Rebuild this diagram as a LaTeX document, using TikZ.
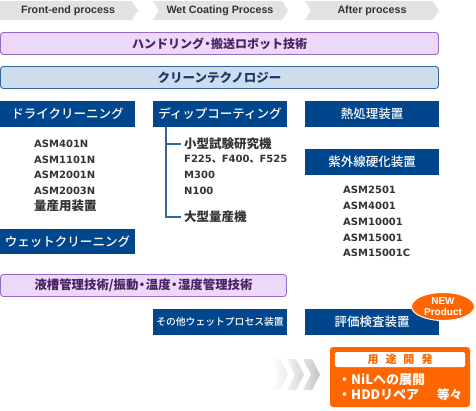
\documentclass[tikz,border=0pt]{standalone}
\usepackage{fontspec}
\usetikzlibrary{shapes.geometric}
\setmainfont{Noto Sans CJK JP}
\newfontfamily\jpm{Noto Sans CJK JP Medium}
\newfontfamily\asmf{DejaVu Sans}
\newfontfamily\arialf{Liberation Sans}
\definecolor{navy}{HTML}{00468C}
\definecolor{pfill}{HTML}{ECD8F8}
\definecolor{pline}{HTML}{9966CC}
\definecolor{ptext}{HTML}{4A2163}
\definecolor{cfill}{HTML}{CEDDEE}
\definecolor{cline}{HTML}{3366A0}
\definecolor{ctext}{HTML}{1B3A6B}
\definecolor{procgray}{HTML}{E2E2E2}
\definecolor{txt}{HTML}{333333}
\definecolor{orng}{HTML}{FF6600}
\newcommand{\fs}[1]{\fontsize{#1}{#1}\selectfont}
\newcommand{\nd}{\hspace{-2.5pt}・\hspace{-2.5pt}}
\begin{document}
\begin{tikzpicture}[x=1pt,y=-1pt,
  proctext/.style={font=\arialf\bfseries\fs{10.7}, text=txt},
  band/.style={draw, rounded corners=3pt, line width=0.9pt, minimum width=438pt, minimum height=22pt, inner sep=0pt},
  bluebox/.style={fill=navy, text=white, minimum width=134pt, minimum height=26pt, inner sep=0pt, font=\jpm\fs{12.5}},
  asm/.style={anchor=west, inner sep=0pt, font=\asmf\bfseries\fs{10}, text=txt},
  jpitem/.style={anchor=west, inner sep=0pt, font=\bfseries\fs{12.5}, text=txt},
  conn/.style={draw=cline, line width=1.4pt}
]
\useasboundingbox (0,0) rectangle (476,410);
% process arrows
\fill[procgray] (0,1) -- (132,1) -- (138,10.5) -- (132,20) -- (0,20) -- cycle;
\fill[procgray] (153,1) -- (282,1) -- (288,10.5) -- (282,20) -- (153,20) -- (159,10.5) -- cycle;
\fill[procgray] (305,1) -- (433,1) -- (439,10.5) -- (433,20) -- (305,20) -- (311,10.5) -- cycle;
\node[proctext] (p1) at (68,10.5) {Front-end process};
\node[proctext] (p2) at (220,10.5) {Wet Coating Process};
\node[proctext] (p3) at (372,10.5) {After process};
% bands
\node[band, draw=pline, fill=pfill, text=ptext, font=\bfseries\fs{12}] (hand) at (219.5,43.5) {ハンドリング\nd 搬送ロボット技術};
\node[band, draw=cline, fill=cfill, text=ctext, font=\bfseries\fs{12.5}] (clean) at (219.5,77.5) {クリーンテクノロジー};
\node[band, draw=pline, fill=pfill, text=ptext, font=\bfseries\fs{12.4}, minimum width=286pt] (liq) at (143.5,285.5) {液槽管理技術/振動\nd 温度\nd 湿度管理技術};
% blue boxes
\node[bluebox, minimum width=135pt] (dry) at (67.5,114) {ドライクリーニング};
\node[bluebox] (dip) at (220,114) {ディップコーティング};
\node[bluebox] (heat) at (372,114) {熱処理装置};
\node[bluebox] (uv) at (372,162) {紫外線硬化装置};
\node[bluebox, minimum width=135pt, minimum height=25pt] (wet) at (67.5,241.5) {ウェットクリーニング};
\node[bluebox, font=\jpm\fs{9.8}] (other) at (220,322) {その他ウェットプロセス装置};
\node[bluebox] (eval) at (372,322) {評価検査装置};
% dry list
\node[asm] (d1) at (34,144) {ASM401N};
\node[asm] (d2) at (34,159.5) {ASM1101N};
\node[asm] (d3) at (34,175) {ASM2001N};
\node[asm] (d4) at (34,190.5) {ASM2003N};
\node[jpitem] (d5) at (34,206) {量産用装置};
% dip list
\node[jpitem] (s1) at (184,144) {小型試験研究機};
\node[asm] (s2) at (184,159.5) {F225{\rmfamily 、}F400{\rmfamily 、}F525};
\node[asm] (s3) at (184,175) {M300};
\node[asm] (s4) at (184,190.5) {N100};
\node[jpitem] (s5) at (184,217) {大型量産機};
\coordinate (v) at (166,127);
\draw[conn] (v) |- ([xshift=-3pt]s5.west);
\draw[conn] (v |- s1.west) -- ([xshift=-3pt]s1.west);
% uv list
\node[asm] (u1) at (343,190) {ASM2501};
\node[asm] (u2) at (343,205.8) {ASM4001};
\node[asm] (u3) at (343,221.6) {ASM10001};
\node[asm] (u4) at (343,237.4) {ASM15001};
\node[asm] (u5) at (343,253.2) {ASM15001C};
% new product
\node[ellipse, fill=orng, draw=white, line width=1pt, minimum width=63pt, minimum height=28pt, inner sep=0pt, text=white, align=center, font=\arialf\bfseries\fs{10}] (new) at (443,306.5) {NEW\\[1.5pt]Product};
% chevrons
\shade[left color=white, right color=black!8] (271,359) -- (280,359) -- (288,374.5) -- (280,390) -- (271,390) -- (279,374.5) -- cycle;
\shade[left color=black!5, right color=black!16] (287,359) -- (296,359) -- (304,374.5) -- (296,390) -- (287,390) -- (295,374.5) -- cycle;
\shade[left color=black!10, right color=black!24] (303,359) -- (312,359) -- (320,374.5) -- (312,390) -- (303,390) -- (311,374.5) -- cycle;
% development box
\node[fill=orng, rounded corners=3pt, minimum width=140pt, minimum height=60pt, inner sep=0pt] (dev) at (400,377) {};
\node[fill=white, rounded corners=2pt, minimum width=130pt, minimum height=15pt, inner sep=0pt, text=orng, font=\bfseries\fs{11}] (devt) at (400,359.5) {用\hspace{7pt}途\hspace{7pt}開\hspace{7pt}発};
\node[anchor=west, inner sep=0pt, text=white, font=\bfseries\fs{13}] (n1) at (338,380) {・NiLへの展開};
\node[anchor=west, inner sep=0pt, text=white, font=\bfseries\fs{13}] (n2) at (338,394.5) {・HDDリペア};
\node[anchor=west, inner sep=0pt, text=white, font=\bfseries\fs{12.5}] (n3) at (437,394.5) {等々};
\end{tikzpicture}
\end{document}
